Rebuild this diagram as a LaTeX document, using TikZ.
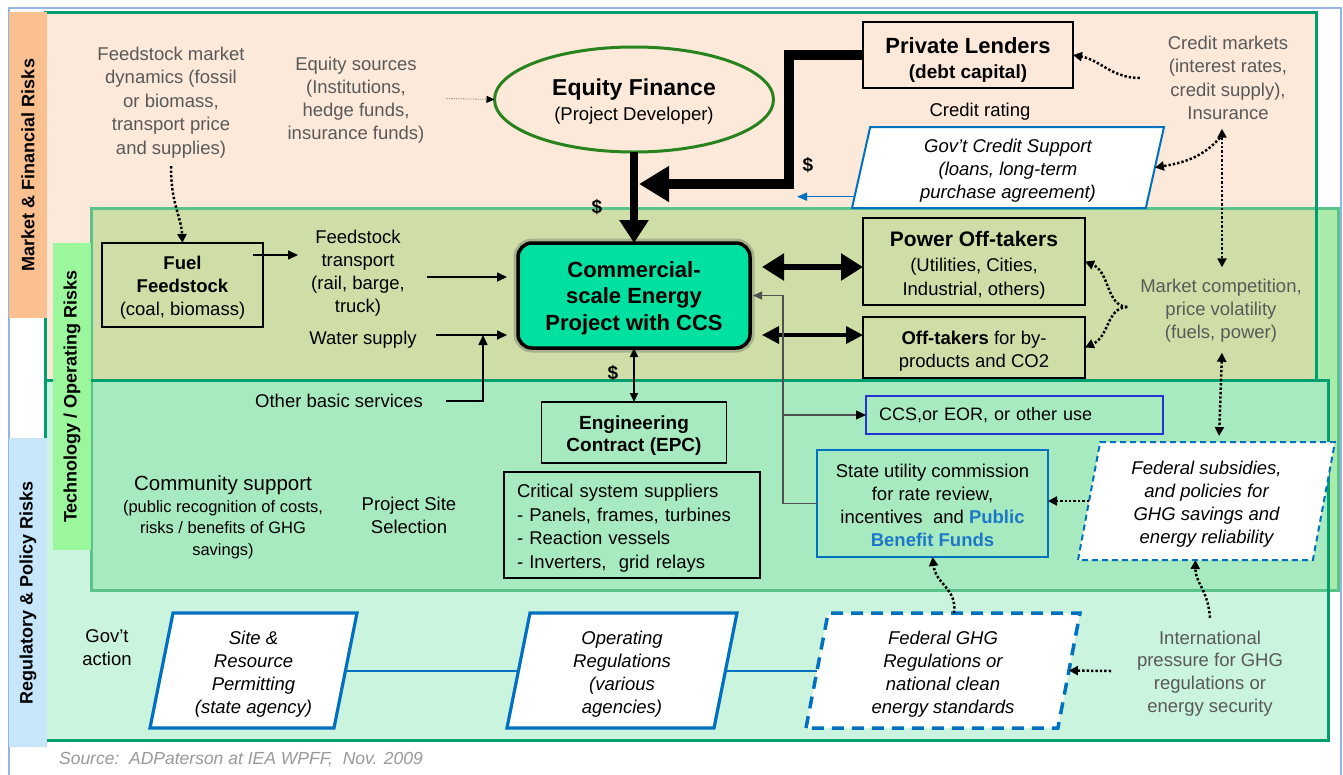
\documentclass[tikz,border=0pt]{standalone}
\usepackage{fontspec}
\setmainfont{Liberation Sans}
\usetikzlibrary{shapes.geometric,arrows.meta,calc}
\newcommand{\myfs}[2]{\fontsize{#1}{#2}\selectfont}
\newcommand{\hs}[1]{\rule{0pt}{#1pt}}
\definecolor{peach}{RGB}{253,233,217}
\definecolor{olivebg}{RGB}{207,222,166}
\definecolor{techmint}{RGB}{168,234,191}
\definecolor{regmint}{RGB}{202,244,222}
\definecolor{techwhite}{RGB}{170,234,170}
\definecolor{framegreen}{RGB}{0,160,110}
\definecolor{techgreen}{RGB}{90,195,140}
\definecolor{orangelab}{RGB}{250,192,144}
\definecolor{greenlab}{RGB}{155,247,155}
\definecolor{bluelab}{RGB}{200,230,250}
\definecolor{outerblue}{RGB}{150,180,225}
\definecolor{boxblue}{RGB}{0,112,192}
\definecolor{pubblue}{RGB}{30,120,200}
\definecolor{darkblue}{RGB}{40,50,210}
\definecolor{txtgray}{RGB}{89,89,89}
\definecolor{ellgreen}{RGB}{40,130,30}
\definecolor{ccsfill}{RGB}{0,224,160}
\definecolor{linegray}{RGB}{80,80,80}
\begin{document}
\begin{tikzpicture}[x=1pt,y=-1pt,
  every node/.style={inner sep=0pt, outer sep=0pt},
  txt/.style={align=center, font=\myfs{18.5}{23}},
  gtxt/.style={txt, text=txtgray},
  bbox/.style={draw=black, line width=1.3pt, align=center, font=\myfs{18.5}{23}},
  tbox/.style={draw=black, line width=2.6pt, align=center, font=\myfs{18.5}{23}},
  para/.style 2 args={trapezium, trapezium left angle=#1, trapezium right angle=#2,
     trapezium stretches body=true, draw=boxblue, fill=white, align=center,
     font=\myfs{18.5}{23}\itshape},
  risklab/.style={rotate=90, minimum height=38pt, font=\myfs{18}{22}\bfseries},
  dotar/.style={line width=2.5pt, dash pattern=on 2.4pt off 2pt, -{Triangle[length=9pt,width=9pt]}},
  dotarboth/.style={line width=2.5pt, dash pattern=on 2.4pt off 2pt,
     {Triangle[length=9pt,width=9pt]}-{Triangle[length=9pt,width=9pt]}},
  arrow/.style={line width=1.6pt, -{Triangle[length=10pt,width=9pt]}},
  dollar/.style={font=\myfs{19}{22}\bfseries}
]
\path[use as bounding box] (0,0) rectangle (1343,774);
% outer frame
\draw[outerblue, line width=1.5pt] (9,790) -- (9,8) -- (1341,8) -- (1341,790);
% region fills
\fill[peach] (45,12) rectangle (1316,380);
\fill[regmint] (45,380) rectangle (1328,740);
\fill[olivebg] (91,208) rectangle (1316,380);
\fill[techwhite] (1316,208) rectangle (1338,380);
\fill[techmint] (91,380) rectangle (1328,590);
\fill[techwhite] (1328,380) rectangle (1338,590);
% region borders
\draw[techgreen, line width=3pt] (91,208) rectangle (1338,590);
\draw[framegreen, line width=3pt] (45,12) rectangle (1316,380);
\draw[framegreen, line width=3pt] (45,380) rectangle (1328,740);
% risk labels
\node[risklab, fill=orangelab, minimum width=306pt] (mfr) at (28,165) {Market \& Financial Risks};
\node[risklab, fill=greenlab, minimum width=307pt] (tor) at (72,396.5) {Technology / Operating Risks};
\node[risklab, fill=bluelab, minimum width=309pt] (rpr) at (28,592.5) {Regulatory \& Policy Risks};

% ---------- market region ----------
\node[gtxt, font=\myfs{18.5}{23.5}] (feedmkt) at (171,100) {\hs{18.5}Feedstock market\\dynamics (fossil\\or biomass,\\transport price\\and supplies)};
\node[gtxt] (eqsrc) at (356,98.5) {\hs{17.5}Equity sources\\(Institutions,\\hedge funds,\\insurance funds)};
\node[ellipse, draw=ellgreen, line width=3pt, minimum width=279pt, minimum height=105pt,
      align=center, font=\myfs{18.5}{25}] (equity) at (634,99.5)
      {{\myfs{23}{25}\bfseries\hs{20}Equity Finance}\\(Project Developer)};
\node[tbox, minimum width=210pt, minimum height=66pt, font=\myfs{19}{25}\bfseries] (lenders) at (968,55)
      {{\myfs{22}{25}\hs{25}Private Lenders}\\(debt capital)};
\node[gtxt, font=\myfs{18.5}{23.3}] (credmkt) at (1228,78) {Credit markets\\(interest rates,\\credit supply),\\Insurance};
\node[txt] (credrating) at (980,112) {Credit rating};
\node[para={75.5}{104.5}, line width=2pt, minimum width=312pt, minimum height=81pt] (gcs) at (1008,167.5)
      {\hs{20.5}Gov't Credit Support\\(loans, long-term\\purchase agreement)};
\node[dollar] (d1) at (597,207) {\$};
\node[dollar] (d2) at (808,165) {\$};

% ---------- technology region ----------
\node[bbox, minimum width=161pt, minimum height=84pt] (fuel) at (182.5,285)
      {\hs{19.5}\textbf{Fuel}\\\textbf{Feedstock}\\(coal, biomass)};
\node[txt] (transport) at (358,270.5) {\hs{19.5}Feedstock\\transport\\(rail, barge,\\truck)};
\node[txt] (water) at (363,340) {Water supply};
\node[txt] (other) at (339,401) {Other basic services};
\node[draw=black, line width=3.5pt, rounded corners=14pt, fill=ccsfill,
      minimum width=232pt, minimum height=105pt, align=center, font=\myfs{22}{26.5}\bfseries,
      preaction={draw=black!70, line width=9pt, opacity=0.3}] (ccs) at (634,295.5)
      {\hs{21}Commercial-\\scale Energy\\Project with CCS};
\node[tbox, minimum width=222pt, minimum height=87pt, font=\myfs{18.5}{24.5}] (power) at (974,261.5)
      {{\myfs{21}{24}\bfseries\hs{23.3}Power Off-takers}\\(Utilities, Cities,\\Industrial, others)};
\node[tbox, minimum width=222pt, minimum height=61pt] (offt) at (974,347.5)
      {\hs{21.5}{\bfseries Off-takers} for by-\\products and CO2};
\node[gtxt] (mktcomp) at (1221,309) {\hs{17.5}Market competition,\\price volatility\\(fuels, power)};
\node[dollar] (d3) at (613,373) {\$};
\node[bbox, minimum width=185pt, minimum height=61pt, font=\myfs{19}{22.5}\bfseries] (epc) at (634,432.5)
      {\hs{20}Engineering\\Contract (EPC)};
\node[bbox, minimum width=256pt, minimum height=106pt, align=left, text width=230pt,
      font=\myfs{18.5}{23.5}] (crit) at (632,525)
      {\hs{19.5}Critical system suppliers\\- Panels, frames, turbines\\- Reaction vessels\\- Inverters,\ \ grid relays};
\node[draw=darkblue, line width=1.6pt, minimum width=297pt, minimum height=38pt, text width=271pt,
      align=left, font=\myfs{18}{22}] (ccseor) at (1014.5,415) {CCS,or EOR, or other use};
\node[draw=boxblue, line width=2.3pt, minimum width=231pt, minimum height=107pt, align=center,
      font=\myfs{18.5}{23}] (state) at (932.5,503.5)
      {\hs{17.5}State utility commission\\for rate review,\\incentives\ \ and \textcolor{pubblue}{\bfseries Public}\\\textcolor{pubblue}{\bfseries Benefit Funds}};
\node[para={76.65}{103.35}, line width=2pt, dash pattern=on 6pt off 4pt, minimum width=257pt,
      minimum height=118pt] (fedsub) at (1206.5,501)
      {\hs{20.5}Federal subsidies,\\and policies for\\GHG savings and\\energy reliability};
\node[txt, font=\myfs{16.5}{21.5}] (community) at (223,515)
      {{\myfs{20.5}{24}\hs{19}Community support}\\(public recognition of costs,\\risks / benefits of GHG\\savings)};
\node[txt] (projsite) at (409,515.5) {Project Site\\Selection};

% ---------- regulatory region ----------
\node[txt] (govt) at (107,648) {Gov't\\action};
\node[para={76.3}{103.7}, line width=3.2pt, minimum width=207pt, minimum height=115pt] (site) at (253.5,670.5)
      {\hs{21.5}Site \&\\Resource\\Permitting\\(state agency)};
\node[para={76.3}{103.7}, line width=3.2pt, minimum width=230pt, minimum height=115pt] (oper) at (622,670.5)
      {\hs{21.5}Operating\\Regulations\\(various\\agencies)};
\node[para={76.8}{103.2}, line width=3.5pt, dash pattern=on 12pt off 8pt, minimum width=274pt,
      minimum height=115pt] (fedghg) at (943,670.5)
      {\hs{21.5}Federal GHG\\Regulations or\\national clean\\energy standards};
\node[gtxt, font=\myfs{18.5}{22.7}] (intl) at (1210,671)
      {\hs{18.5}International\\pressure for GHG\\regulations or\\energy security};
\node[font=\myfs{17.5}{20}\itshape, text=black!40] (source) at (241,759)
      {Source:\ \ ADPaterson at IEA WPFF,\ \ Nov. 2009};

% ---------- connectors ----------
% equity sources -> equity
\draw[gray, line width=0.8pt, dash pattern=on 1.2pt off 1.2pt,
      -{Triangle[length=8pt,width=7pt,color=black]}] ($(eqsrc.east)+(22,0)$) -- (equity.west);
% equity -> CCS
\draw[line width=8pt, -{Triangle[length=23pt,width=28pt]}] (equity.south) -- (ccs.north);
% lenders -> merge
\coordinate (merge) at (639,184);
\draw[line width=10pt, -{Triangle[length=30pt,width=34pt]}] (lenders.west) -- ++(-74,0) |- (merge);
% gov't credit -> blue arrow
\coordinate (gcsblue) at ($(gcs.bottom left corner)!0.14!(gcs.top left corner)$);
\coordinate (blueend) at (797,0);
\draw[boxblue, line width=1.5pt, -{Triangle[length=10pt,width=8pt]}] (gcsblue) -- (gcsblue -| blueend);
% credit markets -> lenders
\draw[dotar] ($(credmkt.west)+(-28,0)$) .. controls (1112,78) and (1100,60) .. (lenders.east);
% credit markets <-> market competition
\draw[dotarboth] ($(credmkt.south)+(-6,9)$) -- ($(mktcomp.north)+(1,-8)$);
% credit markets -> gov't credit support
\draw[dotar] ($(credmkt.south)+(-8,18)$) .. controls (1202,158) and (1182,163) .. (gcs.right side);
% market competition -> off-takers (brace)
\coordinate (brace) at ($(mktcomp.west)+(-13,-2)$);
\draw[dotar] (brace) .. controls (1106,306) and (1110,272) .. (power.east);
\draw[dotar] (brace) .. controls (1106,308) and (1110,336) .. (offt.east);
% market competition <-> federal subsidies
\draw[dotarboth] ($(mktcomp.south)+(1,10)$) -- ($(fedsub.top side)+(1.5,-6)$);
% federal subsidies -> state
\draw[dotar] (fedsub.left side) -- (fedsub.left side -| state.east);
% federal GHG -> state
\draw[dotar] (fedghg.top side) .. controls (957,588) and (936,585) .. (state.south);
% international -> federal subsidies
\draw[dotar] ($(intl.north)+(0,-8)$) .. controls (1208,590) and (1195,582) .. (fedsub.bottom side);
% international -> federal GHG
\draw[dotar] ($(intl.west)+(-26,0)$) -- (fedghg.right side);
% feedstock market -> fuel feedstock
\draw[dotar] ($(feedmkt.south)+(0,8)$) .. controls (171,205) and (181,215) .. (fuel.north);
% fuel -> transport
\coordinate (ftip) at (298,255);
\draw[arrow] ($(fuel.north east)+(-10,12)$) -- (ftip);
% transport / water -> CCS
\coordinate (ccsL) at ($(ccs.west)+(-11,0)$);
\coordinate (tstart) at ($(transport.east)+(22,6.5)$);
\draw[arrow] (tstart) -- (tstart -| ccsL);
\coordinate (wstart) at ($(water.east)+(19,-5)$);
\draw[arrow] (wstart) -- (wstart -| ccsL);
% other basic services -> water line
\coordinate (ostart) at ($(other.east)+(23,0)$);
\coordinate (wjoin) at (483,0);
\draw[arrow] (ostart) -| (wjoin |- wstart);
% CCS <-> off-takers
\coordinate (a1) at ($(ccs.east)+(12,-28.5)$);
\draw[line width=6pt, {Triangle[length=22pt,width=26pt]}-{Triangle[length=22pt,width=26pt]}] (a1) -- (a1 -| power.west);
\coordinate (a2) at ($(ccs.east)+(12,39.5)$);
\draw[line width=3.5pt, {Triangle[length=17pt,width=17pt]}-{Triangle[length=17pt,width=17pt]}] (a2) -- (a2 -| offt.west);
% state -> CCS, and branch to CCS/EOR
\coordinate (vline) at ($(state.west)+(-34,0)$);
\draw[linegray, line width=1.3pt, -{Triangle[length=9pt,width=8pt]}] (state.west) -- (vline) |- ($(ccs.east)+(3,0)$);
\draw[linegray, line width=1.3pt, -{Triangle[length=10pt,width=9pt,color=black]}] (vline |- ccseor.west) -- (ccseor.west);
% CCS <-> EPC
\draw[line width=1.6pt, {Triangle[length=9pt,width=8pt]}-{Triangle[length=9pt,width=8pt]}] (ccs.south) -- (epc.north);
% regulation chain
\draw[boxblue, line width=2pt] (site.right side) -- (oper.left side);
\draw[boxblue, line width=2pt] (oper.right side) -- (fedghg.left side);
\end{tikzpicture}
\end{document}
